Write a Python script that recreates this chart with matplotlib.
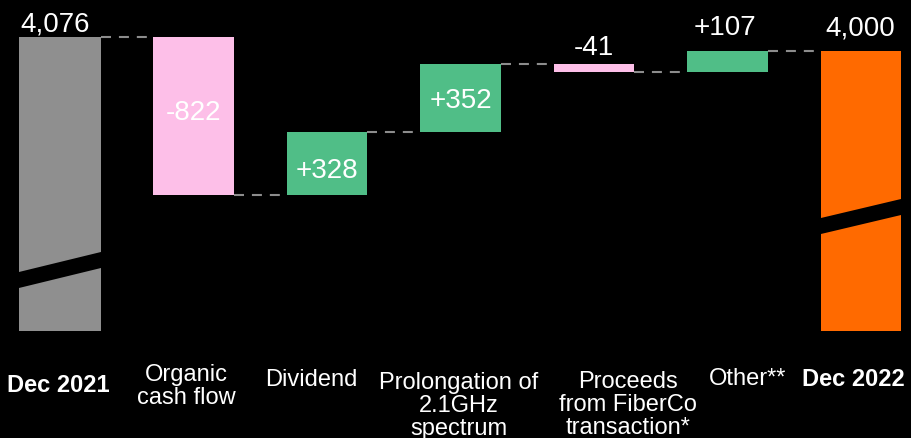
import matplotlib
matplotlib.use("Agg")
import matplotlib.pyplot as plt
from matplotlib.transforms import blended_transform_factory
from matplotlib.patches import Polygon

plt.rcParams['font.family'] = ['Liberation Sans', 'DejaVu Sans']

# ---------------- data ----------------
categories = ["Dec 2021", "Organic\ncash flow", "Dividend",
              "Prolongation of\n2.1GHz\nspectrum",
              "Proceeds\nfrom FiberCo\ntransaction*", "Other**", "Dec 2022"]
start_total = 4076
changes = [-822, 328, 352, -41, 107]
end_total = 4000
value_labels = ["4,076", "-822", "+328", "+352", "-41", "+107", "4,000"]

# ---------------- style / layout ----------------
GREY = '#8f8f8f'
PINK = '#fdbfe8'
GREEN = '#50be87'
ORANGE = '#ff6a00'
DASH = '#8c8c8c'
W, H = 912, 439
AXIS_FLOOR = 2550          # broken-axis base of the total bars
YLIM = (1994, 4272)
XLIM = (-0.449, 6.382)
BAR_W = 0.6
PX_PER_X = 133.5           # pixels per category step
X0_PX = 60                 # pixel centre of the first category

fig = plt.figure(figsize=(W / 100, H / 100), dpi=100, facecolor='black')
ax = fig.add_axes([0, 0, 1, 1])
ax.set_facecolor('black')
ax.set_xlim(*XLIM)
ax.set_ylim(*YLIM)
ax.axis('off')

# running totals
levels = [start_total]
for c in changes:
    levels.append(levels[-1] + c)

bottoms, heights, colors = [], [], []
bottoms.append(AXIS_FLOOR); heights.append(start_total - AXIS_FLOOR); colors.append(GREY)
for i, c in enumerate(changes):
    lo = min(levels[i], levels[i + 1])
    bottoms.append(lo); heights.append(abs(c)); colors.append(GREEN if c > 0 else PINK)
bottoms.append(AXIS_FLOOR); heights.append(end_total - AXIS_FLOOR); colors.append(ORANGE)
tops = [b + h for b, h in zip(bottoms, heights)]

xs = list(range(len(categories)))
widths = [0.614] + [BAR_W] * (len(xs) - 1)
ax.bar(xs, heights, bottom=bottoms, width=widths, color=colors, linewidth=0, zorder=2)

# connectors
for i in range(len(xs) - 1):
    x0 = xs[i] + widths[i] / 2
    x1 = xs[i + 1] - widths[i + 1] / 2
    ax.plot([x0, x1], [levels[i], levels[i]], color=DASH, lw=1.5,
            dashes=(4.8, 3.8), zorder=1, solid_capstyle='butt', dash_capstyle='butt')

# axis-break stripes (pixel layout: left upper y, right upper y, thickness)
trans_b = blended_transform_factory(ax.transData, ax.transAxes)
breaks = [(0, 273, 253, 16), (6, 219, 200, 16)]
for idx, yl, yr, th in breaks:
    w = widths[idx]
    xl, xr = idx - w / 2, idx + w / 2
    ext = 0.05
    slope = (yr - yl) / (xr - xl)
    yl2 = yl - slope * ext
    yr2 = yr + slope * ext
    pts = [(xl - ext, 1 - yl2 / H), (xr + ext, 1 - yr2 / H),
           (xr + ext, 1 - (yr2 + th) / H), (xl - ext, 1 - (yl2 + th) / H)]
    ax.add_patch(Polygon(pts, closed=True, facecolor='black', edgecolor='none',
                         transform=trans_b, zorder=3))

# value labels
VFS = 20
# above-bar labels: index -> (dx px, dy px)
above = {0: (-4.5, 6), 4: (-0.5, 10), 5: (-3, 17), 6: (-1, 17)}
for idx, (dx, dy) in above.items():
    ax.annotate(value_labels[idx], (idx, tops[idx]), xytext=(dx, dy), textcoords='offset pixels',
                ha='center', va='baseline', color='white', fontsize=VFS, zorder=4)
inside = {1: 4, 2: -6, 3: -2}
for idx, dy in inside.items():
    mid = bottoms[idx] + heights[idx] / 2
    ax.annotate(value_labels[idx], (idx, mid), xytext=(0, dy), textcoords='offset pixels',
                ha='center', va='center', color='white', fontsize=VFS, zorder=4)

# category labels (centre x and top y in pixels)
label_cx = [58, 186, 311, 459, 628, 748, 853]
label_tops = [374, 364, 369, 372, 371, 368, 368]
for i, (cat, cx, top) in enumerate(zip(categories, label_cx, label_tops)):
    bold = i in (0, len(categories) - 1)
    xd = (cx - X0_PX) / PX_PER_X
    ax.text(xd, 1 - top / H, cat, transform=trans_b, ha='center', va='top',
            multialignment='center', color='white', fontsize=17,
            fontweight='bold' if bold else 'normal', linespacing=1.07)

fig.savefig('out.png', dpi=100, facecolor='black')
